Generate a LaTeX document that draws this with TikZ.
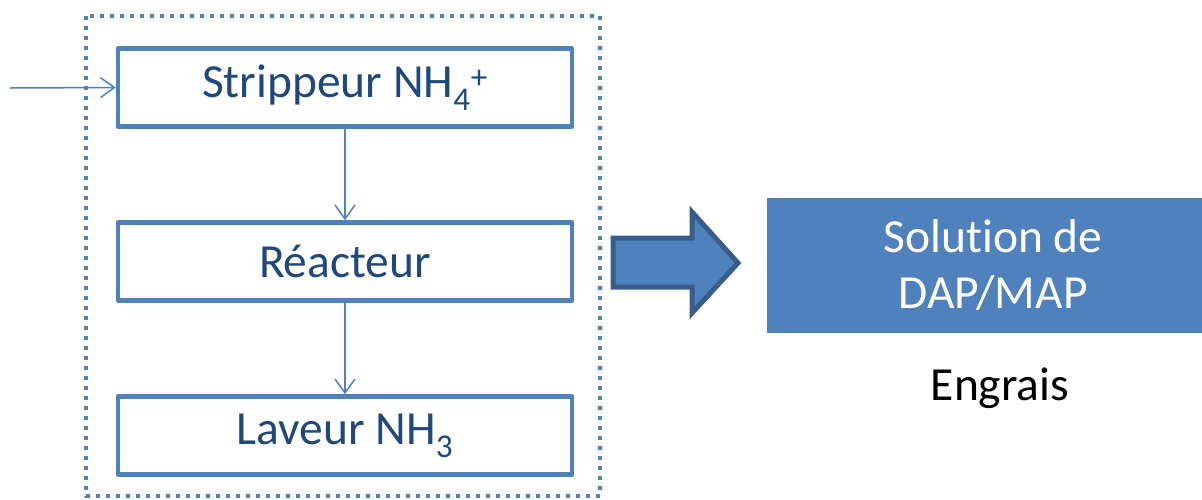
\documentclass[tikz,border=0pt]{standalone}
\usepackage{fontspec}
\setmainfont{Carlito}[Ligatures=NoCommon]
\usetikzlibrary{arrows.meta}
\definecolor{bleu}{HTML}{4F81BD}
\definecolor{bleufonce}{HTML}{385D8A}
\definecolor{texte}{HTML}{1F497D}
\begin{document}
\begin{tikzpicture}[x=1pt, y=-1pt, font=\fontsize{47.5}{56}\selectfont, line join=round, >={Straight Barb[length=14pt,width=20pt]}]
\tikzset{etape/.style={draw=bleu, line width=4.5pt, minimum width=454pt, minimum height=78pt, text=texte, inner sep=0pt}}
\useasboundingbox (0,0) rectangle (1202,499);
\draw[bleu, line width=4pt, dash pattern=on 4pt off 6pt] (86,16) rectangle (600,496);
\node[etape] (strip) at (345,87.5) {Strippeur NH\textsubscript{4}\textsuperscript{+}};
\node[etape] (reac) at (345,261.5) {Réacteur};
\node[etape] (lav) at (345,435.5) {Laveur NH\textsubscript{3}};
\coordinate (entree) at (10,88);
\draw[->, bleu, line width=1.5pt] (entree) -- (strip.west);
\draw[->, bleu, line width=1.5pt] (strip) -- (reac);
\draw[->, bleu, line width=1.5pt] (reac) -- (lav);
\draw[fill=bleu, draw=bleufonce, line width=5pt, line join=miter] (613,238)--(692,238)--(692,212)--(738,263)--(692,313)--(692,287)--(613,287)--cycle;
\node[fill=bleu, text=white, minimum width=452pt, minimum height=135pt, align=center] (sol) at (993,265.5) {Solution de\\DAP/MAP};
\node (engrais) at (1000,388) {Engrais};
\end{tikzpicture}
\end{document}
